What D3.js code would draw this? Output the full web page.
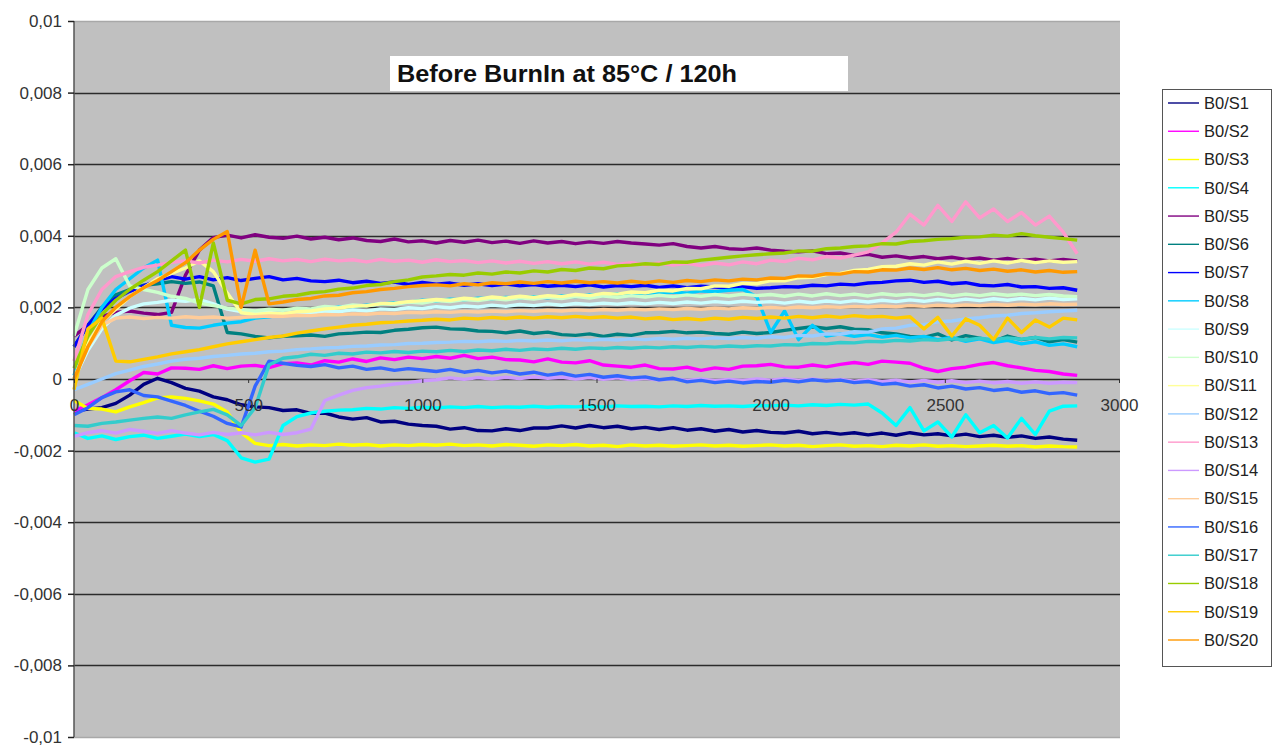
<!DOCTYPE html>
<html><head><meta charset="utf-8">
<script src="https://cdn.jsdelivr.net/npm/d3@7"></script>
<style>html,body{margin:0;padding:0;background:#fff}svg{display:block}text{font-family:"Liberation Sans",Arial,sans-serif}</style>
</head><body>
<script>
// time axis (s), one sample every 40 s
const times = d3.range(0, 2881, 40);
// values in units of 1e-3
const valueUnit = 1e-3;
const seriesNames = ["B0/S1","B0/S2","B0/S3","B0/S4","B0/S5","B0/S6","B0/S7","B0/S8","B0/S9","B0/S10","B0/S11","B0/S12","B0/S13","B0/S14","B0/S15","B0/S16","B0/S17","B0/S18","B0/S19","B0/S20"];
const seriesColors = ["#000080","#FF00FF","#FFFF00","#00FFFF","#800080","#008080","#0000FF","#00CCFF","#CCFFFF","#CCFFCC","#FFFF99","#99CCFF","#FF99CC","#CC99FF","#FFCC99","#3366FF","#33CCCC","#99CC00","#FFCC00","#FF9900"];
const xTicks = [0,500,1000,1500,2000,2500,3000];
const xTickLabels = ["0","500","1000","1500","2000","2500","3000"];
const yTicks = [0.01,0.008,0.006,0.004,0.002,0,-0.002,-0.004,-0.006,-0.008,-0.01];
const yTickLabels = ["0,01","0,008","0,006","0,004","0,002","0","-0,002","-0,004","-0,006","-0,008","-0,01"];
const titleText = "Before BurnIn at 85°C / 120h";

const S1 = [-0.90,-0.84,-0.80,-0.68,-0.45,-0.15,0.02,-0.10,-0.26,-0.34,
-0.50,-0.58,-0.72,-0.78,-0.80,-0.88,-0.86,-0.96,-0.95,-1.06,
-1.12,-1.08,-1.20,-1.18,-1.26,-1.30,-1.32,-1.40,-1.36,-1.44,
-1.45,-1.39,-1.44,-1.37,-1.37,-1.31,-1.37,-1.30,-1.36,-1.32,
-1.39,-1.35,-1.41,-1.36,-1.43,-1.39,-1.46,-1.41,-1.48,-1.44,
-1.49,-1.51,-1.46,-1.53,-1.49,-1.54,-1.50,-1.56,-1.51,-1.57,
-1.50,-1.56,-1.53,-1.59,-1.54,-1.61,-1.57,-1.63,-1.59,-1.66,
-1.62,-1.68,-1.71];
const S2 = [-0.90,-0.72,-0.52,-0.30,-0.05,0.18,0.14,0.31,0.30,0.27,
0.37,0.29,0.36,0.38,0.32,0.43,0.45,0.39,0.51,0.47,
0.56,0.49,0.59,0.54,0.61,0.57,0.63,0.58,0.66,0.57,
0.61,0.54,0.53,0.48,0.56,0.47,0.45,0.51,0.39,0.36,
0.33,0.39,0.29,0.28,0.33,0.24,0.31,0.27,0.36,0.37,
0.41,0.34,0.33,0.39,0.34,0.41,0.46,0.41,0.50,0.47,
0.44,0.30,0.21,0.29,0.33,0.41,0.46,0.37,0.31,0.24,
0.21,0.14,0.10];
const S3 = [-0.60,-0.82,-0.84,-0.92,-0.78,-0.66,-0.53,-0.50,-0.54,-0.61,
-0.70,-0.92,-1.50,-1.80,-1.86,-1.83,-1.87,-1.84,-1.86,-1.82,
-1.85,-1.83,-1.87,-1.84,-1.86,-1.83,-1.85,-1.82,-1.86,-1.84,
-1.87,-1.83,-1.85,-1.88,-1.84,-1.86,-1.83,-1.87,-1.85,-1.89,
-1.84,-1.87,-1.85,-1.88,-1.86,-1.84,-1.87,-1.85,-1.88,-1.86,
-1.84,-1.87,-1.85,-1.89,-1.86,-1.84,-1.88,-1.86,-1.89,-1.85,
-1.87,-1.84,-1.88,-1.86,-1.89,-1.87,-1.85,-1.88,-1.86,-1.90,
-1.87,-1.89,-1.90];
const S4 = [-1.50,-1.66,-1.59,-1.69,-1.61,-1.57,-1.66,-1.60,-1.54,-1.61,
-1.55,-1.72,-2.20,-2.32,-2.24,-1.30,-1.05,-0.95,-0.90,-0.87,
-0.86,-0.82,-0.84,-0.80,-0.82,-0.79,-0.81,-0.78,-0.80,-0.77,
-0.80,-0.78,-0.79,-0.76,-0.79,-0.77,-0.78,-0.76,-0.78,-0.75,
-0.77,-0.76,-0.78,-0.75,-0.77,-0.74,-0.76,-0.75,-0.77,-0.74,
-0.75,-0.73,-0.75,-0.72,-0.74,-0.71,-0.73,-0.70,-0.95,-1.30,
-0.80,-1.45,-1.20,-1.62,-1.00,-1.50,-1.30,-1.65,-1.10,-1.55,
-0.90,-0.76,-0.75];
const S5 = [1.20,1.50,1.75,1.86,1.90,1.84,1.80,1.86,2.90,3.60,
3.95,4.02,3.94,4.03,3.96,3.93,3.99,3.91,3.96,3.89,
3.94,3.87,3.84,3.91,3.83,3.86,3.80,3.87,3.82,3.88,
3.81,3.85,3.79,3.86,3.80,3.84,3.78,3.83,3.79,3.84,
3.80,3.77,3.74,3.78,3.70,3.66,3.70,3.64,3.62,3.66,
3.60,3.57,3.55,3.58,3.50,3.52,3.45,3.48,3.40,3.44,
3.38,3.42,3.36,3.40,3.34,3.38,3.32,3.37,3.31,3.35,
3.30,3.34,3.30];
const S6 = [0.90,1.50,2.00,2.35,2.50,2.62,2.66,2.72,2.67,2.71,
2.60,1.30,1.26,1.19,1.15,1.19,1.21,1.23,1.19,1.26,
1.28,1.31,1.30,1.36,1.39,1.43,1.45,1.40,1.39,1.34,
1.33,1.29,1.34,1.27,1.31,1.24,1.22,1.26,1.19,1.25,
1.22,1.29,1.30,1.33,1.29,1.31,1.27,1.25,1.31,1.27,
1.30,1.36,1.41,1.46,1.41,1.46,1.39,1.38,1.29,1.26,
1.19,1.16,1.26,1.09,1.21,1.14,1.05,1.20,1.10,1.16,
1.04,1.10,1.03];
const S7 = [0.90,1.50,1.95,2.25,2.45,2.60,2.75,2.86,2.79,2.86,
2.77,2.83,2.75,2.81,2.86,2.77,2.81,2.74,2.72,2.76,
2.69,2.73,2.67,2.71,2.64,2.70,2.65,2.68,2.62,2.66,
2.61,2.65,2.60,2.64,2.59,2.62,2.58,2.63,2.57,2.61,
2.58,2.62,2.56,2.60,2.55,2.59,2.57,2.54,2.58,2.53,
2.55,2.58,2.57,2.62,2.60,2.65,2.63,2.68,2.70,2.74,
2.76,2.70,2.73,2.66,2.69,2.62,2.60,2.64,2.57,2.58,
2.53,2.55,2.48];
const S8 = [0.10,1.30,2.00,2.50,2.80,3.10,3.32,1.50,1.44,1.42,
1.50,1.56,1.60,1.70,1.74,1.81,1.84,1.91,1.94,2.01,
2.02,2.06,2.09,2.13,2.14,2.20,2.18,2.23,2.21,2.26,
2.24,2.28,2.26,2.30,2.27,2.32,2.30,2.35,2.33,2.38,
2.36,2.41,2.38,2.43,2.40,2.46,2.44,2.48,2.50,2.30,
1.30,1.90,1.10,1.50,1.20,1.26,1.19,1.24,1.17,1.22,
1.15,1.19,1.10,1.16,1.05,1.12,1.02,1.08,0.98,1.04,
0.94,0.98,0.90];
const S9 = [0.00,0.80,1.40,1.78,1.98,2.10,2.14,2.20,2.17,2.22,
2.10,1.95,1.88,1.84,1.86,1.82,1.87,1.84,1.90,1.88,
1.93,1.90,1.96,1.94,1.99,1.97,2.02,1.99,2.04,2.01,
2.06,2.03,2.08,2.05,2.10,2.06,2.11,2.08,2.12,2.09,
2.13,2.10,2.14,2.11,2.15,2.12,2.16,2.13,2.17,2.14,
2.16,2.12,2.17,2.13,2.18,2.14,2.19,2.15,2.20,2.16,
2.21,2.17,2.22,2.18,2.23,2.19,2.24,2.20,2.25,2.21,
2.26,2.22,2.24];
const S10 = [1.20,2.50,3.10,3.36,2.60,2.50,2.42,2.31,2.25,2.12,
2.05,1.98,1.94,1.90,1.95,1.92,1.98,1.96,2.03,2.00,
2.07,2.04,2.11,2.08,2.15,2.12,2.19,2.16,2.22,2.19,
2.25,2.21,2.27,2.23,2.29,2.25,2.31,2.26,2.32,2.28,
2.33,2.29,2.34,2.30,2.35,2.31,2.36,2.32,2.37,2.33,
2.36,2.31,2.37,2.32,2.38,2.33,2.37,2.32,2.38,2.34,
2.37,2.33,2.38,2.32,2.37,2.33,2.38,2.34,2.37,2.33,
2.36,2.32,2.30];
const S11 = [0.00,1.00,1.60,1.95,2.30,2.55,2.80,2.95,3.10,3.30,
3.00,2.40,1.85,1.80,1.84,1.82,1.88,1.90,1.96,1.98,
2.03,2.05,2.10,2.12,2.16,2.19,2.22,2.20,2.26,2.23,
2.29,2.26,2.31,2.28,2.33,2.30,2.36,2.33,2.39,2.37,
2.43,2.41,2.48,2.46,2.53,2.52,2.60,2.59,2.67,2.66,
2.75,2.74,2.83,2.84,2.92,2.95,3.03,3.06,3.14,3.15,
3.22,3.18,3.27,3.21,3.29,3.23,3.30,3.24,3.31,3.25,
3.30,3.26,3.28];
const S12 = [-0.30,-0.15,0.00,0.15,0.25,0.35,0.42,0.50,0.55,0.58,
0.63,0.66,0.70,0.72,0.76,0.78,0.82,0.84,0.87,0.88,
0.91,0.92,0.95,0.96,0.99,1.00,1.02,1.03,1.05,1.04,
1.07,1.05,1.08,1.06,1.09,1.07,1.10,1.08,1.11,1.09,
1.12,1.10,1.13,1.11,1.14,1.12,1.15,1.13,1.16,1.14,
1.18,1.16,1.22,1.20,1.26,1.25,1.32,1.31,1.40,1.42,
1.50,1.52,1.60,1.62,1.68,1.71,1.76,1.78,1.83,1.85,
1.88,1.90,1.92];
const S13 = [0.50,1.80,2.50,2.86,3.00,3.12,3.18,3.26,3.30,3.24,
3.32,3.27,3.34,3.29,3.36,3.30,3.34,3.28,3.35,3.30,
3.33,3.27,3.34,3.29,3.32,3.26,3.33,3.28,3.31,3.25,
3.30,3.24,3.29,3.23,3.28,3.22,3.27,3.21,3.26,3.20,
3.25,3.19,3.24,3.18,3.23,3.17,3.24,3.19,3.27,3.22,
3.32,3.28,3.37,3.33,3.42,3.38,3.46,3.55,3.80,4.10,
4.60,4.30,4.85,4.40,4.95,4.50,4.75,4.40,4.65,4.30,
4.55,4.10,3.50];
const S14 = [-1.60,-1.50,-1.44,-1.51,-1.41,-1.46,-1.52,-1.44,-1.51,-1.56,
-1.49,-1.55,-1.50,-1.56,-1.49,-1.55,-1.50,-1.40,-0.60,-0.45,
-0.32,-0.24,-0.20,-0.14,-0.10,-0.05,-0.02,0.03,-0.01,0.04,
0.00,0.05,0.01,0.06,0.02,0.05,0.00,0.04,-0.01,0.03,
-0.02,0.02,-0.03,0.01,-0.04,0.00,-0.05,-0.01,-0.04,0.00,
-0.03,0.01,-0.04,0.00,-0.05,-0.01,-0.06,-0.02,-0.07,-0.03,
-0.08,-0.04,-0.09,-0.05,-0.10,-0.06,-0.11,-0.07,-0.12,-0.08,
-0.12,-0.09,-0.10];
const S15 = [0.00,0.90,1.50,1.70,1.73,1.69,1.72,1.70,1.74,1.71,
1.73,1.70,1.72,1.74,1.76,1.75,1.78,1.77,1.80,1.79,
1.82,1.81,1.84,1.83,1.86,1.85,1.88,1.86,1.89,1.87,
1.90,1.88,1.91,1.89,1.92,1.90,1.93,1.91,1.94,1.92,
1.95,1.93,1.96,1.94,1.97,1.95,1.98,1.96,1.99,1.97,
2.00,1.98,2.01,1.99,2.02,2.00,2.03,2.01,2.04,2.02,
2.05,2.03,2.06,2.04,2.07,2.05,2.08,2.06,2.09,2.07,
2.10,2.08,2.09];
const S16 = [-1.00,-0.80,-0.52,-0.36,-0.30,-0.46,-0.50,-0.62,-0.74,-0.90,
-1.04,-1.24,-1.34,-0.20,0.50,0.44,0.38,0.35,0.40,0.31,
0.36,0.27,0.31,0.24,0.29,0.25,0.21,0.27,0.19,0.24,
0.17,0.22,0.14,0.19,0.11,0.16,0.08,0.13,0.05,0.09,
0.03,0.06,-0.02,0.02,-0.08,-0.04,-0.10,-0.06,-0.11,-0.07,
-0.09,-0.04,-0.08,-0.02,-0.06,-0.03,-0.10,-0.07,-0.15,-0.12,
-0.20,-0.16,-0.25,-0.20,-0.28,-0.24,-0.32,-0.28,-0.37,-0.33,
-0.41,-0.38,-0.45];
const S17 = [-1.30,-1.32,-1.24,-1.20,-1.15,-1.10,-1.06,-1.10,-1.00,-0.92,
-0.85,-1.00,-1.30,-0.80,0.40,0.58,0.62,0.69,0.66,0.72,
0.70,0.75,0.73,0.77,0.74,0.78,0.76,0.80,0.77,0.81,
0.79,0.83,0.80,0.84,0.82,0.86,0.83,0.87,0.85,0.88,
0.86,0.89,0.87,0.90,0.88,0.91,0.89,0.92,0.90,0.93,
0.92,0.96,0.95,0.99,0.98,1.02,1.01,1.05,1.04,1.08,
1.06,1.10,1.08,1.12,1.09,1.14,1.10,1.15,1.11,1.16,
1.12,1.16,1.15];
const S18 = [0.30,1.20,1.80,2.20,2.50,2.76,3.00,3.30,3.60,2.00,
3.80,2.20,2.10,2.22,2.24,2.31,2.34,2.41,2.44,2.51,
2.54,2.61,2.64,2.72,2.77,2.85,2.88,2.92,2.90,2.96,
2.93,2.99,2.96,3.02,2.99,3.06,3.03,3.10,3.08,3.16,
3.18,3.22,3.20,3.27,3.26,3.32,3.36,3.40,3.44,3.47,
3.50,3.52,3.58,3.57,3.64,3.66,3.70,3.72,3.78,3.77,
3.84,3.86,3.90,3.92,3.96,3.97,4.02,3.99,4.06,4.00,
3.96,3.92,3.88];
const S19 = [-0.30,1.40,1.70,0.50,0.48,0.55,0.62,0.70,0.76,0.82,
0.90,0.98,1.04,1.10,1.16,1.20,1.28,1.34,1.40,1.45,
1.50,1.53,1.57,1.59,1.62,1.64,1.67,1.65,1.70,1.68,
1.72,1.69,1.73,1.70,1.74,1.71,1.75,1.71,1.74,1.70,
1.73,1.68,1.71,1.66,1.69,1.65,1.70,1.67,1.72,1.69,
1.73,1.70,1.75,1.71,1.76,1.72,1.77,1.73,1.75,1.70,
1.74,1.40,1.72,1.20,1.68,1.50,1.10,1.70,1.30,1.65,
1.45,1.70,1.65];
const S20 = [0.00,0.90,1.60,2.00,2.30,2.55,2.75,3.00,3.25,3.60,
3.90,4.12,2.00,3.60,2.10,2.15,2.22,2.25,2.32,2.34,
2.41,2.44,2.50,2.53,2.58,2.61,2.63,2.60,2.66,2.63,
2.69,2.66,2.71,2.67,2.72,2.68,2.73,2.69,2.72,2.68,
2.73,2.69,2.74,2.70,2.75,2.72,2.77,2.74,2.79,2.77,
2.82,2.81,2.88,2.87,2.94,2.93,3.00,2.99,3.05,3.04,
3.10,3.06,3.11,3.05,3.09,3.03,3.07,3.01,3.05,2.99,
3.03,2.98,3.00];
const seriesValues = [S1,S2,S3,S4,S5,S6,S7,S8,S9,S10,S11,S12,S13,S14,S15,S16,S17,S18,S19,S20];

const W = 1276, H = 754;
const plotL = 74, plotR = 1120, plotT = 21, plotB = 737;
const svg = d3.select("body").append("svg").attr("width", W).attr("height", H);
svg.append("rect").attr("width", W).attr("height", H).attr("fill", "#fff");

const x = d3.scaleLinear().domain([0, 3000]).range([plotL, 1119]);
const y = d3.scaleLinear().domain([-0.01, 0.01]).range([plotB, plotT]);

svg.append("rect").attr("x", plotL).attr("y", plotT).attr("width", plotR - plotL).attr("height", plotB - plotT).attr("fill", "#C0C0C0");

// gridlines
svg.append("g").selectAll("line").data(yTicks).join("line")
  .attr("x1", plotL).attr("x2", plotR)
  .attr("y1", d => Math.round(y(d)) + 0.5).attr("y2", d => Math.round(y(d)) + 0.5)
  .attr("stroke", d => Math.abs(d) > 0.009 ? "#a8a8a8" : "#2b2b2b")
  .attr("stroke-width", 1.4);

// title box
svg.append("rect").attr("x", 390).attr("y", 56).attr("width", 458).attr("height", 35).attr("fill", "#fff");
svg.append("text").attr("x", 397).attr("y", 82).attr("font-size", 24).attr("font-weight", "bold")
  .attr("fill", "#111").attr("textLength", 340).attr("lengthAdjust", "spacingAndGlyphs").text(titleText);

// series
const line = d3.line().x((d, i) => x(times[i])).y(d => y(d * valueUnit));
const gLines = svg.append("g");
seriesValues.forEach((vals, k) => {
  gLines.append("path").datum(vals.slice(0, times.length))
    .attr("d", line).attr("fill", "none")
    .attr("stroke", seriesColors[k]).attr("stroke-width", 3.4)
    .attr("stroke-linejoin", "round");
});

// left axis line
svg.append("line").attr("x1", plotL).attr("x2", plotL).attr("y1", plotT).attr("y2", plotB)
  .attr("stroke", "#555").attr("stroke-width", 1.5);

// y axis
const yAxis = d3.axisLeft(y).tickValues(yTicks).tickFormat((d, i) => yTickLabels[i]).tickSize(6).tickPadding(6);
const gy = svg.append("g").attr("transform", `translate(${plotL},0)`).call(yAxis);
gy.select(".domain").remove();
gy.selectAll(".tick line").attr("stroke", "#222").attr("stroke-width", 1.5);
gy.selectAll("text").attr("font-size", 17).attr("fill", "#333").style("font-family", '"Liberation Sans",Arial,sans-serif');

// x axis along zero
const xAxis = d3.axisBottom(x).tickValues(xTicks).tickFormat((d, i) => xTickLabels[i]).tickSize(4).tickPadding(16);
const gx = svg.append("g").attr("transform", `translate(0,${y(0)})`).call(xAxis);
gx.select(".domain").remove();
gx.selectAll(".tick line").attr("stroke", "#333");
gx.selectAll("text").attr("font-size", 17).attr("fill", "#333").style("font-family", '"Liberation Sans",Arial,sans-serif');

// legend
const lg = svg.append("g");
lg.append("rect").attr("x", 1162.5).attr("y", 89.5).attr("width", 109).attr("height", 577)
  .attr("fill", "#fff").attr("stroke", "#555").attr("stroke-width", 1);
const ly = d3.scalePoint().domain(seriesNames).range([103, 640]);
const items = lg.selectAll("g.item").data(seriesNames).join("g").attr("class", "item")
  .attr("transform", d => `translate(0,${ly(d)})`);
items.append("line").attr("x1", 1168).attr("x2", 1199).attr("y1", 0).attr("y2", 0)
  .attr("stroke", (d, i) => seriesColors[i]).attr("stroke-width", 1.4);
items.append("text").attr("x", 1204).attr("y", 0).attr("dy", "0.35em").attr("font-size", 16.5)
  .attr("fill", "#222").text(d => d);
</script>
</body></html>
